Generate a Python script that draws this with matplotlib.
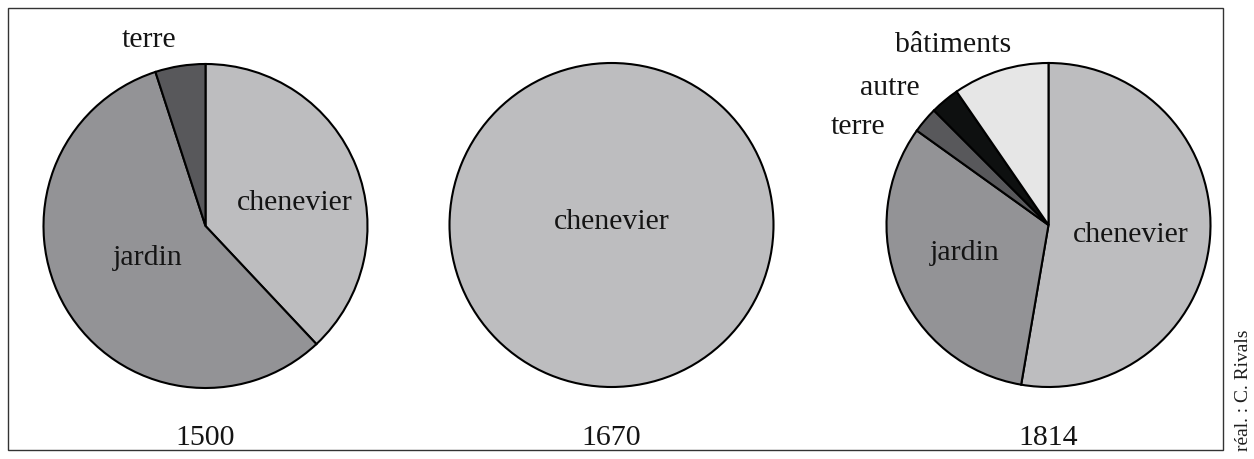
import matplotlib.pyplot as plt
from matplotlib.patches import Rectangle

plt.rcParams['font.family'] = ['Liberation Serif', 'DejaVu Serif']

# shares (%), clockwise from 12 o'clock
years = ['1500', '1670', '1814']
cats_1500 = ['chenevier', 'jardin', 'terre']
vals_1500 = [38, 57, 5]
cats_1670 = ['chenevier']
vals_1670 = [100]
cats_1814 = ['chenevier', 'jardin', 'terre', 'autre', 'bâtiments']
vals_1814 = [52.7, 32.2, 2.6, 2.9, 9.6]

colors = {'chenevier': '#bdbdbf', 'jardin': '#939396', 'terre': '#58585b',
          'autre': '#0e1010', 'bâtiments': '#e6e6e6'}

W, H = 1254, 459
fig = plt.figure(figsize=(W / 100, H / 100), dpi=100)
ax = fig.add_axes([0, 0, 1, 1])

R = 162
centers = [(205.5, H - 226), (611.5, H - 225), (1048.5, H - 225)]

# label positions in pixels (y from top), per pie
label_pos = [
    {'chenevier': (295, 203), 'jardin': (148, 258), 'terre': (149, 40)},
    {'chenevier': (612, 222)},
    {'chenevier': (1131, 235), 'jardin': (965, 253), 'terre': (858, 127),
     'autre': (890, 88), 'bâtiments': (953, 45)},
]

for (cats, vals), c, lp, yr in zip([(cats_1500, vals_1500), (cats_1670, vals_1670),
                                     (cats_1814, vals_1814)], centers, label_pos, years):
    ax.pie(vals, colors=[colors[k] for k in cats], startangle=90, counterclock=False,
           center=c, radius=R, frame=True,
           wedgeprops=dict(edgecolor='black', linewidth=1.5))
    for k in cats:
        x, y = lp[k]
        ax.text(x, H - y, k, ha='center', va='center', fontsize=21.5, color='#141414')
    ax.text(c[0], H - 438, yr, ha='center', va='center', fontsize=21.5, color='#141414')

# frame around the chart
ax.add_patch(Rectangle((7.5, H - 450), 1215, 442, fill=False,
                       edgecolor='#333333', linewidth=1.0))
ax.text(1243, H - 390, 'réal. : C. Rivals', rotation=90, ha='center', va='center',
        fontsize=14, color='#1e1e1e')

ax.set_xlim(0, W)
ax.set_ylim(0, H)
ax.axis('off')

plt.savefig('out.png', dpi=100)
plt.close(fig)
